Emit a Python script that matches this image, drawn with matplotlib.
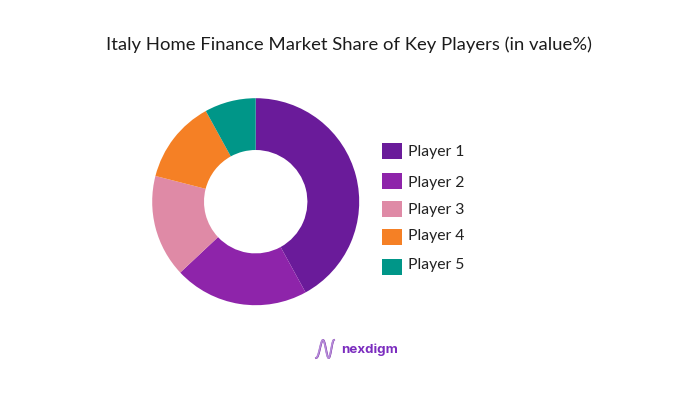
import numpy as np
import matplotlib
matplotlib.use('Agg')
import matplotlib.pyplot as plt
from matplotlib.patches import Rectangle

title = 'Italy Home Finance Market Share of Key Players (in value%)'
players = ['Player 1', 'Player 2', 'Player 3', 'Player 4', 'Player 5']
shares = [42, 21, 16, 13, 8]
colors = ['#6A1B9A', '#8E24AA', '#DF8AA6', '#F58025', '#009688']

# layout in pixels, y goes down like the picture
legend_y = [151, 181, 209, 237, 266.5]
text_y = [151.5, 183, 210, 236, 265]

plt.rcParams['font.family'] = ['Lato', 'DejaVu Sans']

fig = plt.figure(figsize=(7, 4.11), dpi=100)
ax = fig.add_axes([0, 0, 1, 1])

# y axis is inverted, so this runs clockwise from the top on screen
ax.pie(shares, colors=colors, startangle=-90, counterclock=True,
       center=(255.7, 201.7), radius=103.5, frame=True,
       wedgeprops=dict(width=51.8, linewidth=0))

ax.set_xlim(0, 700)
ax.set_ylim(411, 0)
ax.set_aspect('auto')
ax.axis('off')

ax.text(349, 45, title, ha='center', va='center', fontsize=13.3,
        color='#1c1c1c')

for name, col, sy, ty in zip(players, colors, legend_y, text_y):
    ax.add_patch(Rectangle((382, sy - 8), 20, 16, color=col, lw=0))
    ax.text(408, ty, name, ha='left', va='center', fontsize=11.3,
            color='#222222')

# logo: two crossing waves and the word
t = np.linspace(0, 1, 60)
for shift, col in [(0.0, '#6A1B9A'), (0.15, '#B58AD8')]:
    x = 316 + 18 * t ** 0.85
    y = 349 - 9 * np.sin(3 * np.pi * t - np.pi / 2 + shift)
    ax.plot(x, y, color=col, lw=1.3)
ax.text(341, 349.5, 'nexdigm', ha='left', va='center', fontsize=9.6,
        fontweight='bold', family='Inter', color='#7B2CBF')

fig.savefig('out.png', dpi=100)
